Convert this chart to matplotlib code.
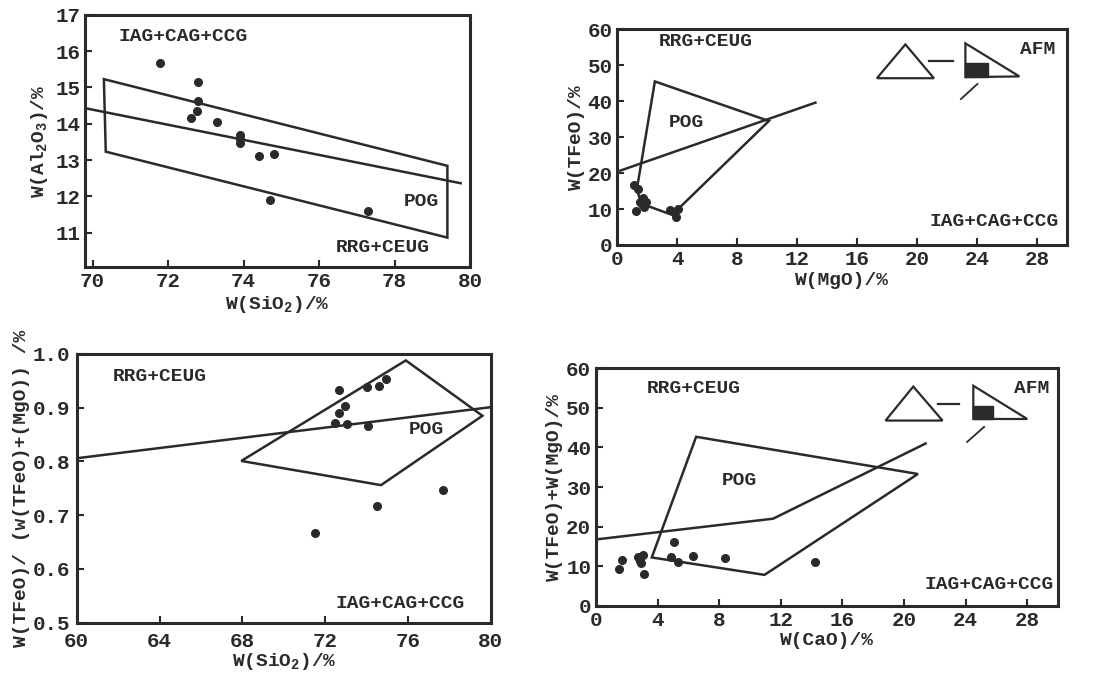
import matplotlib
matplotlib.use("Agg")
import matplotlib.pyplot as plt
from matplotlib.patches import Polygon, Rectangle

plt.rcParams['font.family'] = ['Liberation Mono', 'DejaVu Sans Mono']
plt.rcParams['font.weight'] = 'bold'
plt.rcParams['axes.labelweight'] = 'bold'
plt.rcParams['mathtext.fontset'] = 'custom'
plt.rcParams['mathtext.rm'] = 'Liberation Mono:bold'
plt.rcParams['mathtext.default'] = 'rm'

INK = '#2a2a2a'

# ---- panel a : Al2O3 vs SiO2
a_sio2 = [71.8, 72.8, 72.8, 72.77, 72.6, 73.3, 73.9, 73.9, 73.9, 74.4, 74.8, 74.7, 77.3]
a_al2o3 = [15.68, 15.15, 14.62, 14.36, 14.17, 14.04, 13.68, 13.57, 13.48, 13.12, 13.16, 11.89, 11.58]
a_box = [(70.3, 15.23), (79.4, 12.84), (79.4, 10.86), (70.35, 13.23)]
a_line_x = [69.8, 79.75]
a_line_y = [14.43, 12.36]

# ---- panel b : TFeO vs MgO
b_mgo = [1.13, 1.39, 1.24, 1.5, 1.72, 1.61, 1.78, 1.9, 3.53, 4.04, 3.88]
b_tfeo = [16.6, 15.6, 9.4, 12.1, 13.1, 11.5, 10.6, 12.1, 9.6, 10.0, 7.7]
b_pog = [(2.5, 45.5), (10.1, 34.5), (4.0, 9.8), (3.7, 8.3), (1.6, 11.5), (1.3, 15.5)]
b_line_x = [0.2, 13.2]
b_line_y = [20.7, 39.6]

# ---- panel c : TFeO/(TFeO+MgO) vs SiO2
c_sio2 = [72.65, 74.0, 74.62, 74.93, 72.98, 72.65, 72.46, 73.07, 74.05, 74.49, 77.69, 71.51]
c_ratio = [0.933, 0.939, 0.940, 0.953, 0.903, 0.890, 0.872, 0.869, 0.866, 0.717, 0.747, 0.666]
c_pog = [(75.9, 0.988), (79.6, 0.885), (74.7, 0.756), (67.95, 0.801)]
c_line_x = [60.0, 80.0]
c_line_y = [0.806, 0.901]

# ---- panel d : TFeO+MgO vs CaO
d_cao = [1.5, 1.66, 2.75, 2.88, 2.9, 3.08, 3.14, 5.07, 4.85, 5.3, 6.31, 8.38, 14.2]
d_sum = [9.2, 11.5, 12.2, 11.3, 10.7, 12.8, 8.0, 16.0, 12.2, 11.1, 12.5, 12.0, 11.1]
d_pog = [(6.5, 42.7), (20.9, 33.3), (10.94, 7.8), (3.62, 12.2)]
d_line_x = [0.1, 11.5, 21.4]
d_line_y = [16.8, 22.0, 41.0]

# AFM insets (triangle, dash, right triangle, filled box, slash)
b_tri = [(17.3, 46.4), (21.1, 46.4), (19.2, 55.8)]
b_dash = ([20.8, 22.4], [51.3, 51.3])
b_rtri = [(23.2, 56.1), (23.2, 46.7), (26.8, 46.9)]
b_rect = (23.2, 46.7, 1.5, 3.9)
b_slash = ([22.9, 24.0], [40.6, 44.8])

d_tri = [(18.8, 46.8), (22.5, 46.8), (20.6, 55.4)]
d_dash = ([22.2, 23.6], [51.0, 51.0])
d_rtri = [(24.5, 55.6), (24.5, 47.2), (28.0, 47.2)]
d_rect = (24.5, 47.2, 1.3, 3.2)
d_slash = ([24.1, 25.2], [41.4, 45.2])

fig = plt.figure(figsize=(11.17, 6.74), dpi=100)
fs = 14


def style(ax):
    for s in ax.spines.values():
        s.set_linewidth(2.2)
        s.set_color(INK)
    ax.tick_params(direction='in', length=5, width=1.5, colors=INK, labelsize=fs + 1)


def afm(ax, tri, dash, rtri, rect, slash):
    ax.add_patch(Polygon(tri, closed=True, fill=False, lw=1.6, ec=INK))
    ax.plot(*dash, color=INK, lw=1.6)
    ax.add_patch(Polygon(rtri, closed=True, fill=False, lw=1.6, ec=INK))
    ax.add_patch(Rectangle(rect[:2], rect[2], rect[3], color=INK))
    ax.plot(*slash, color=INK, lw=1.3)


# panel a
ax1 = fig.add_axes([0.0761, 0.6039, 0.3447, 0.3739])
ax1.add_patch(Polygon(a_box, closed=True, fill=False, lw=1.8, ec=INK))
ax1.plot(a_line_x, a_line_y, color=INK, lw=1.8)
ax1.plot(a_sio2, a_al2o3, 'o', color=INK, ms=5.5)
ax1.set_xlim(69.8, 80)
ax1.set_ylim(10.05, 17)
ax1.set_xticks([70, 72, 74, 76, 78, 80])
ax1.set_yticks([11, 12, 13, 14, 15, 16, 17])
ax1.text(72.4, 16.4, 'IAG+CAG+CCG', fontsize=fs, ha='center', va='center', color=INK)
ax1.text(78.7, 11.86, 'POG', fontsize=fs, ha='center', va='center', color=INK)
ax1.text(77.7, 10.6, 'RRG+CEUG', fontsize=fs, ha='center', va='center', color=INK)
ax1.set_xlabel('W(SiO$_2$)/%', fontsize=fs, color=INK, labelpad=2)
ax1.set_ylabel('W(Al$_2$O$_3$)/%', fontsize=fs, color=INK, labelpad=4)
style(ax1)

# panel b
ax2 = fig.add_axes([0.5527, 0.6365, 0.4029, 0.32])
ax2.add_patch(Polygon(b_pog, closed=True, fill=False, lw=1.8, ec=INK))
ax2.plot(b_line_x, b_line_y, color=INK, lw=1.8)
ax2.plot(b_mgo, b_tfeo, 'o', color=INK, ms=5.5)
ax2.set_xlim(0, 30)
ax2.set_ylim(0, 60)
ax2.set_xticks(range(0, 29, 4))
ax2.set_yticks(range(0, 61, 10))
ax2.text(5.9, 56.6, 'RRG+CEUG', fontsize=fs, ha='center', va='center', color=INK)
ax2.text(4.6, 34.1, 'POG', fontsize=fs, ha='center', va='center', color=INK)
ax2.text(25.1, 6.6, 'IAG+CAG+CCG', fontsize=fs, ha='center', va='center', color=INK)
ax2.text(28.0, 54.3, 'AFM', fontsize=fs, ha='center', va='center', color=INK)
afm(ax2, b_tri, b_dash, b_rtri, b_rect, b_slash)
ax2.set_xlabel('W(MgO)/%', fontsize=fs, color=INK, labelpad=2)
ax2.set_ylabel('W(TFeO)/%', fontsize=fs, color=INK, labelpad=2)
style(ax2)

# panel c
ax3 = fig.add_axes([0.0687, 0.0761, 0.3706, 0.3987])
ax3.add_patch(Polygon(c_pog, closed=True, fill=False, lw=1.8, ec=INK))
ax3.plot(c_line_x, c_line_y, color=INK, lw=1.8)
ax3.plot(c_sio2, c_ratio, 'o', color=INK, ms=5.5)
ax3.set_xlim(60, 80)
ax3.set_ylim(0.5, 1.0)
ax3.set_xticks(range(60, 81, 4))
ax3.set_yticks([0.5, 0.6, 0.7, 0.8, 0.9, 1.0])
ax3.set_yticklabels(['0.5', '0.6', '0.7', '0.8', '0.9', '1.0'])
ax3.text(64.0, 0.958, 'RRG+CEUG', fontsize=fs, ha='center', va='center', color=INK)
ax3.text(76.9, 0.859, 'POG', fontsize=fs, ha='center', va='center', color=INK)
ax3.text(75.6, 0.536, 'IAG+CAG+CCG', fontsize=fs, ha='center', va='center', color=INK)
ax3.set_xlabel('W(SiO$_2$)/%', fontsize=fs, color=INK, labelpad=0)
ax3.set_ylabel('W(TFeO)/ (w(TFeO)+(MgO)) /%', fontsize=fs, color=INK, labelpad=2)
style(ax3)
ax3.tick_params(axis='x', pad=7)
ax3.tick_params(axis='y', pad=5)

# panel d
ax4 = fig.add_axes([0.5336, 0.1013, 0.4136, 0.3522])
ax4.add_patch(Polygon(d_pog, closed=True, fill=False, lw=1.8, ec=INK))
ax4.plot(d_line_x, d_line_y, color=INK, lw=1.8)
ax4.plot(d_cao, d_sum, 'o', color=INK, ms=5.5)
ax4.set_xlim(0, 30)
ax4.set_ylim(0, 60)
ax4.set_xticks(range(0, 29, 4))
ax4.set_yticks(range(0, 61, 10))
ax4.text(6.35, 55.0, 'RRG+CEUG', fontsize=fs, ha='center', va='center', color=INK)
ax4.text(9.3, 31.6, 'POG', fontsize=fs, ha='center', va='center', color=INK)
ax4.text(25.5, 5.4, 'IAG+CAG+CCG', fontsize=fs, ha='center', va='center', color=INK)
ax4.text(28.3, 55.0, 'AFM', fontsize=fs, ha='center', va='center', color=INK)
afm(ax4, d_tri, d_dash, d_rtri, d_rect, d_slash)
ax4.set_xlabel('W(CaO)/%', fontsize=fs, color=INK, labelpad=2)
ax4.set_ylabel('W(TFeO)+W(MgO)/%', fontsize=fs, color=INK, labelpad=2)
style(ax4)

fig.savefig('out.png', dpi=100)
